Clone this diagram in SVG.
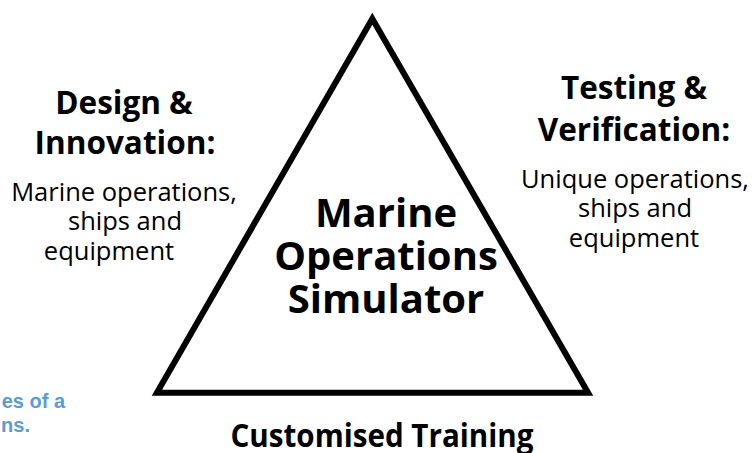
<svg xmlns="http://www.w3.org/2000/svg" width="756" height="453" viewBox="0 0 756 453">
  <style>
    .title { font-family: "Open Sans", "Liberation Sans", sans-serif; font-weight: bold; font-size: 31.5px; fill: #000; text-anchor: middle; }
    .body { font-family: "Open Sans", "Liberation Sans", sans-serif; font-size: 25.5px; fill: #000; text-anchor: middle; }
    .center { font-family: "Open Sans", "Liberation Sans", sans-serif; font-weight: bold; font-size: 40px; fill: #000; text-anchor: middle; }
    .note { font-family: "Liberation Sans", Arial, sans-serif; font-weight: bold; font-size: 20px; fill: #5B9BD5; text-anchor: end; }
  </style>
  <rect width="756" height="453" fill="#ffffff"/>
  <g id="triangle">
    <polygon points="372.3,18.7 588.1,392.7 156.9,392.7" fill="none" stroke="#000" stroke-width="6" stroke-linejoin="miter"/>
  </g>
  <g id="simulator">
    <text class="center" x="386" y="227">Marine</text>
    <text class="center" x="386" y="270">Operations</text>
    <text class="center" x="386" y="313">Simulator</text>
  </g>
  <g id="design">
    <text class="title" x="124" y="114">Design &amp;</text>
    <text class="title" x="125" y="154">Innovation:</text>
    <text class="body" x="124" y="201">Marine operations,</text>
    <text class="body" x="125" y="230">ships and</text>
    <text class="body" x="109" y="260">equipment</text>
  </g>
  <g id="testing">
    <text class="title" x="634" y="99">Testing &amp;</text>
    <text class="title" x="634" y="141">Verification:</text>
    <text class="body" x="635" y="188">Unique operations,</text>
    <text class="body" x="635" y="217">ships and</text>
    <text class="body" x="634" y="247">equipment</text>
  </g>
  <g id="training">
    <text class="title" x="382" y="447" textLength="303" lengthAdjust="spacingAndGlyphs">Customised Training</text>
  </g>
  <g id="note">
    <text class="note" x="65" y="408">es of a</text>
    <text class="note" x="30" y="432">ns.</text>
  </g>
  <g id="connectors"/>
</svg>
